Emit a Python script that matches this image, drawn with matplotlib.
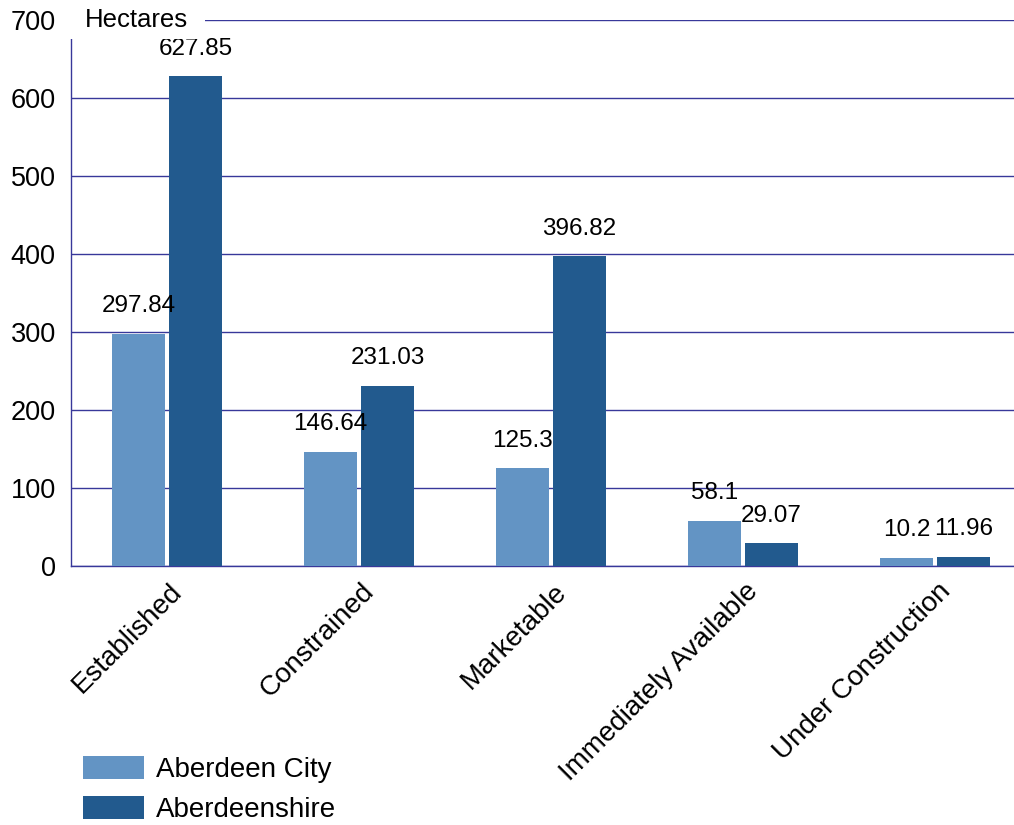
import matplotlib
matplotlib.use("Agg")
import matplotlib.pyplot as plt
import numpy as np
from matplotlib.patches import Rectangle

plt.rcParams['font.family'] = ['Liberation Sans', 'DejaVu Sans']

categories = ["Established", "Constrained", "Marketable", "Immediately Available", "Under Construction"]
aberdeen_city = [297.84, 146.64, 125.3, 58.1, 10.2]
aberdeenshire = [627.85, 231.03, 396.82, 29.07, 11.96]
series_names = ["Aberdeen City", "Aberdeenshire"]
y_ticks = [0, 100, 200, 300, 400, 500, 600, 700]

light = "#6394c4"
dark = "#225a8e"
line_col = "#38389a"

fig = plt.figure(figsize=(10.14, 8.25), dpi=100)
ax = fig.add_axes([71 / 1014, 1 - 566 / 825, 943 / 1014, 546 / 825])

x = np.arange(len(categories))
w = 0.276
off = 0.148
b1 = ax.bar(x - off, aberdeen_city, w, color=light, zorder=3, label=series_names[0])
b2 = ax.bar(x + off, aberdeenshire, w, color=dark, zorder=3, label=series_names[1])

for bars, vals in ((b1, aberdeen_city), (b2, aberdeenshire)):
    for r, v in zip(bars, vals):
        ax.annotate(f"{v:g}", (r.get_x() + r.get_width() / 2, v), xytext=(0, 12),
                    textcoords="offset points", ha="center", va="bottom", fontsize=17.5)

ax.set_xlim(-0.5, 4.41)
ax.set_ylim(0, 700)
ax.set_yticks(y_ticks)
ax.yaxis.grid(True, color=line_col, linewidth=1.0, zorder=1)
ax.set_axisbelow(True)
ax.tick_params(axis="y", length=0, labelsize=19.5, pad=11)
ax.tick_params(axis="x", length=0, labelsize=20, pad=9)
ax.set_xticks(x + 0.01)
ax.set_xticklabels(categories, rotation=45, ha="right", rotation_mode="anchor")

for s in ("top", "right"):
    ax.spines[s].set_visible(False)
for s in ("left", "bottom"):
    ax.spines[s].set_color(line_col)
    ax.spines[s].set_linewidth(1.0)

# white block behind the unit label at the top of the y axis
ax.add_patch(Rectangle((-0.01, 676 / 700), 0.152, 0.06, transform=ax.transAxes,
                       facecolor="white", edgecolor="none", zorder=5, clip_on=False))
ax.text(0.015, 700, "Hectares", transform=ax.get_yaxis_transform(), fontsize=18.5,
        va="center", ha="left", zorder=6)

fig.legend(handles=[b1, b2], loc="upper left", bbox_to_anchor=(72 / 1014, 1 - 745 / 825),
           frameon=False, fontsize=20, handlelength=2.2, handleheight=0.9,
           handletextpad=0.43, labelspacing=0.45, borderaxespad=0)

fig.savefig("out.png", dpi=100)
